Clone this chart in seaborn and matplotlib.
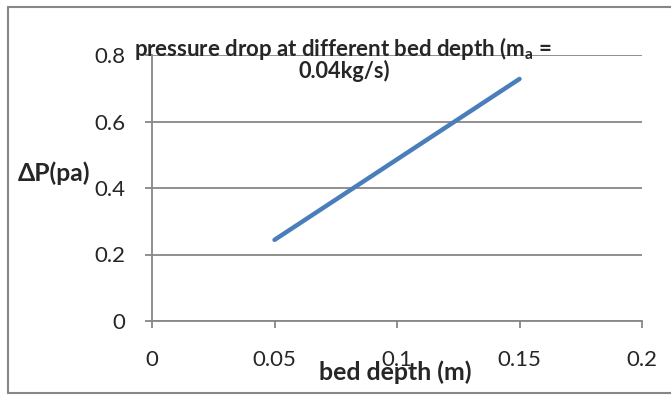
import matplotlib
matplotlib.use("Agg")
import matplotlib.pyplot as plt
import seaborn as sns
import pandas as pd
from matplotlib.lines import Line2D

bed_depth = [0.05, 0.10, 0.15]
pressure_drop = [0.244, 0.486, 0.728]
x_ticks = [0, 0.05, 0.1, 0.15, 0.2]
x_tick_labels = ["0", "0.05", "0.1", "0.15", "0.2"]
y_ticks = [0, 0.2, 0.4, 0.6, 0.8]
y_tick_labels = ["0", "0.2", "0.4", "0.6", "0.8"]
title_line1 = "pressure drop at different bed depth (m$_{\\mathbf{a}}$ ="
title_line2 = "0.04kg/s)"
x_label = "bed depth (m)"
y_label = "ΔP(pa)"

sns.set_style("white")
plt.rcParams['font.family'] = ['Lato', 'DejaVu Sans']
plt.rcParams['mathtext.fontset'] = 'custom'
plt.rcParams['mathtext.rm'] = 'Lato'
plt.rcParams['mathtext.bf'] = 'Lato:bold'

W, H = 671, 395
df = pd.DataFrame({"bed depth": bed_depth, "dP": pressure_drop})

fig = plt.figure(figsize=(W/100, H/100), dpi=100)
L, R, T, B = 152, 642, 55, 321
ax = fig.add_axes([L/W, 1 - B/H, (R-L)/W, (B-T)/H])

sns.lineplot(data=df, x="bed depth", y="dP", ax=ax, color="#4a7ebb", linewidth=3.2,
             solid_capstyle="round")

renderer = fig.canvas.get_renderer()

def fit(t, target_w):
    w = t.get_window_extent(renderer).width
    t.set_fontsize(t.get_fontsize() * target_w / w)
    return t

# font size for tick labels from width of "0.2" (~32 px)
probe = fig.text(0, 0, "0.2", fontsize=10)
fit(probe, 31)
tick_fs = probe.get_fontsize()
probe.remove()

ax.set_xlim(0, 0.2)
ax.set_ylim(0, 0.8)
ax.set_xticks(x_ticks)
ax.set_xticklabels(x_tick_labels, fontsize=tick_fs)
ax.set_yticks(y_ticks)
ax.set_yticklabels(y_tick_labels, fontsize=tick_fs)
ax.yaxis.grid(True, color="#878787", linewidth=1.3)
ax.set_axisbelow(True)
for s in ["top", "right"]:
    ax.spines[s].set_visible(False)
for s in ["left", "bottom"]:
    ax.spines[s].set_color("#878787")
    ax.spines[s].set_linewidth(1.3)
ax.tick_params(axis="x", direction="out", length=5, color="#878787", pad=16, width=1.3, bottom=True)
ax.tick_params(axis="y", direction="out", length=5, color="#878787", pad=14, width=1.3, left=True)
ax.set_xlabel("")
ax.set_ylabel("")

t = fig.text((318+472)/2/W, 1 - 372/H, x_label, ha="center", va="center",
             fontsize=10, fontweight="bold")
fit(t, 154)
t = fig.text((18+90)/2/W, 1 - 173/H, y_label, ha="center", va="center",
             fontsize=10, fontweight="bold")
fit(t, 72)
t = fig.text((133+552)/2/W, 1 - 48/H, title_line1,
             ha="center", va="center", fontsize=10, fontweight="bold")
fit(t, 419)
t = fig.text((298+390)/2/W, 1 - 71/H, title_line2, ha="center", va="center",
             fontsize=10, fontweight="bold")
fit(t, 92)

# chart border (left, top, bottom visible; right edge runs off the image)
bc = "#878787"
fig.add_artist(Line2D([8/W, 8/W], [1 - 393/H, 1 - 7/H], transform=fig.transFigure, color=bc, lw=1.5))
fig.add_artist(Line2D([8/W, 1.0], [1 - 7/H, 1 - 7/H], transform=fig.transFigure, color=bc, lw=1.5))
fig.add_artist(Line2D([8/W, 1.0], [1 - 393/H, 1 - 393/H], transform=fig.transFigure, color=bc, lw=1.5))

fig.savefig("out.png", dpi=100)
